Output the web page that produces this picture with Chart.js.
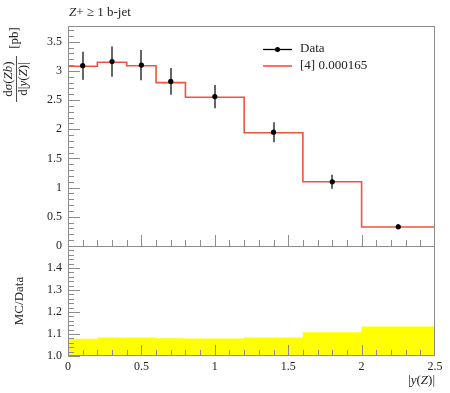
<!DOCTYPE html>
<html>
<head>
<meta charset="utf-8">
<script src="https://cdn.jsdelivr.net/npm/chart.js@4/dist/chart.umd.min.js"></script>
<style>
  html, body { margin: 0; padding: 0; background: #fff; }
</style>
</head>
<body>
<canvas id="plot" width="450" height="393"></canvas>
<script>
/* donnees */
var binEdges = [0, 0.2, 0.4, 0.6, 0.8, 1.2, 1.6, 2.0, 2.5];
var binCentres = [0.1, 0.3, 0.5, 0.7, 1.0, 1.4, 1.8, 2.25];
var dataValues = [3.09, 3.16, 3.10, 2.82, 2.56, 1.95, 1.10, 0.33];
var dataErrors = [0.24, 0.26, 0.26, 0.23, 0.20, 0.17, 0.12, 0.045];
var mcValues = [3.08, 3.15, 3.09, 2.80, 2.55, 1.94, 1.10, 0.325];
var ratioBand = [1.078, 1.084, 1.084, 1.081, 1.079, 1.084, 1.108, 1.134];
var mcRatio = [0.997, 0.997, 0.997, 0.993, 0.996, 0.995, 1.0, 0.985];
var yTicksMain = [0, 0.5, 1, 1.5, 2, 2.5, 3, 3.5];
var yTicksRatio = [1.0, 1.1, 1.2, 1.3, 1.4];
var xTicks = [0, 0.5, 1, 1.5, 2, 2.5];
var dataLabel = 'Data';
var mcLabel = '[4] 0.000165';

var red = 'rgb(238, 84, 60)';
var frameColor = '#8c8c8c';
var serif = '"Liberation Serif", "DejaVu Serif", serif';

// histogramme en escalier : valeur au bord gauche de chaque bin + dernier bord
function steps(vals) {
    var pts = [];
    for (var i = 0; i < vals.length; i++) {
        pts.push({x: binEdges[i], y: vals[i]});
    }
    pts.push({x: binEdges[binEdges.length - 1], y: vals[vals.length - 1]});
    return pts;
}

var dataPoints = binCentres.map(function (x, i) { return {x: x, y: dataValues[i]}; });

// texte avec morceaux en italique, centre sur (0,0) dans le repere courant
function richText(ctx, parts, size, align) {
    var widths = parts.map(function (p) {
        ctx.font = (p[1] ? 'italic ' : '') + size + 'px ' + serif;
        return ctx.measureText(p[0]).width;
    });
    var total = widths.reduce(function (a, b) { return a + b; }, 0);
    var x = align === 'left' ? 0 : (align === 'right' ? -total : -total / 2);
    ctx.textAlign = 'left';
    ctx.textBaseline = 'middle';
    for (var i = 0; i < parts.length; i++) {
        ctx.font = (parts[i][1] ? 'italic ' : '') + size + 'px ' + serif;
        ctx.fillText(parts[i][0], x, 0);
        x += widths[i];
    }
    return total;
}

const decorPlugin = {
    id: 'decor',
    beforeDatasetDraw: function (chart, args) {
        if (args.index !== 0) return;
        // barres d'erreur des donnees
        var ctx = chart.ctx, xs = chart.scales.x, ys = chart.scales.y;
        ctx.save();
        ctx.strokeStyle = '#333';
        ctx.lineWidth = 1.5;
        for (var i = 0; i < binCentres.length; i++) {
            var px = Math.round(xs.getPixelForValue(binCentres[i]));
            ctx.beginPath();
            ctx.moveTo(px, ys.getPixelForValue(dataValues[i] - dataErrors[i]));
            ctx.lineTo(px, ys.getPixelForValue(dataValues[i] + dataErrors[i]));
            ctx.stroke();
        }
        ctx.restore();
    },
    afterDraw: function (chart) {
        var ctx = chart.ctx, a = chart.chartArea;
        var xs = chart.scales.x, ys = chart.scales.y, yr = chart.scales.yr;
        var split = ys.bottom;
        ctx.save();

        // cadre
        ctx.strokeStyle = frameColor;
        ctx.lineWidth = 1;
        ctx.strokeRect(Math.round(a.left) + 0.5, Math.round(a.top) + 0.5,
            Math.round(a.right - a.left) - 1, Math.round(a.bottom - a.top) - 1);
        ctx.beginPath();
        ctx.moveTo(a.left, Math.round(split) + 0.5);
        ctx.lineTo(a.right, Math.round(split) + 0.5);
        ctx.stroke();

        // graduations interieures
        ctx.beginPath();
        var k, p, len;
        for (k = 0; k * 0.1 <= ys.max + 1e-9; k++) {
            p = Math.round(ys.getPixelForValue(k * 0.1)) + 0.5;
            len = (k % 5 === 0) ? 12 : 6;
            ctx.moveTo(a.left, p); ctx.lineTo(a.left + len, p);
        }
        for (k = 0; k <= 24; k++) {
            p = Math.round(yr.getPixelForValue(1 + k * 0.02)) + 0.5;
            len = (k % 5 === 0) ? 12 : 6;
            ctx.moveTo(a.left, p); ctx.lineTo(a.left + len, p);
        }
        for (k = 1; k < 25; k++) {
            p = Math.round(xs.getPixelForValue(k * 0.1)) + 0.5;
            len = (k % 5 === 0) ? 11 : 6;
            ctx.moveTo(p, split); ctx.lineTo(p, split - len);
            ctx.moveTo(p, a.bottom); ctx.lineTo(p, a.bottom - len);
        }
        ctx.stroke();

        ctx.fillStyle = '#222';
        // titre
        ctx.save();
        ctx.translate(69, 13);
        richText(ctx, [['Z', true], ['+ \u2265 1 b-jet', false]], 13, 'left');
        ctx.restore();

        // titre axe y principal (fraction)
        ctx.save();
        ctx.translate(9, 79);
        ctx.rotate(-Math.PI / 2);
        richText(ctx, [['d', false], ['\u03c3', true], ['(', false], ['Zb', true], [')', false]], 13, 'center');
        ctx.restore();
        ctx.save();
        ctx.translate(24, 79);
        ctx.rotate(-Math.PI / 2);
        richText(ctx, [['d|', false], ['y', true], ['(', false], ['Z', true], [')|', false]], 13, 'center');
        ctx.restore();
        ctx.strokeStyle = '#222';
        ctx.lineWidth = 0.8;
        ctx.beginPath();
        ctx.moveTo(16.5, 56); ctx.lineTo(16.5, 102);
        ctx.stroke();
        ctx.save();
        ctx.translate(15, 38);
        ctx.rotate(-Math.PI / 2);
        richText(ctx, [['[pb]', false]], 13, 'center');
        ctx.restore();

        // titre axe ratio
        ctx.save();
        ctx.translate(20, 301);
        ctx.rotate(-Math.PI / 2);
        richText(ctx, [['MC/Data', false]], 13, 'center');
        ctx.restore();

        // titre axe x
        ctx.save();
        ctx.translate(435, 381);
        richText(ctx, [['|', false], ['y', true], ['(', false], ['Z', true], [')|', false]], 13, 'right');
        ctx.restore();

        // legende
        ctx.strokeStyle = '#000';
        ctx.lineWidth = 1.3;
        ctx.beginPath();
        ctx.moveTo(263, 49.5); ctx.lineTo(292, 49.5);
        ctx.stroke();
        ctx.fillStyle = '#000';
        ctx.beginPath();
        ctx.arc(277.5, 49.5, 2.5, 0, 2 * Math.PI);
        ctx.fill();
        ctx.strokeStyle = red;
        ctx.lineWidth = 1.6;
        ctx.beginPath();
        ctx.moveTo(263, 66); ctx.lineTo(292, 66);
        ctx.stroke();
        ctx.fillStyle = '#222';
        ctx.save();
        ctx.translate(300, 49);
        richText(ctx, [[dataLabel, false]], 13, 'left');
        ctx.restore();
        ctx.save();
        ctx.translate(300, 66);
        richText(ctx, [[mcLabel, false]], 13, 'left');
        ctx.restore();

        ctx.restore();
    }
};

const tickFont = { family: serif, size: 12 };

const plotElem = document.getElementById('plot').getContext('2d');

const plotObj = new Chart(plotElem, {
    type: 'line',
    data: {
        datasets: [
            {
                label: dataLabel,
                data: dataPoints,
                yAxisID: 'y',
                showLine: false,
                pointRadius: 2.6,
                pointBackgroundColor: '#000',
                pointBorderColor: '#000',
                pointBorderWidth: 0
            },
            {
                label: mcLabel,
                data: steps(mcValues),
                yAxisID: 'y',
                stepped: true,
                borderColor: red,
                borderWidth: 1.6,
                pointRadius: 0,
                fill: false
            },
            {
                label: 'ratio',
                data: steps(mcRatio),
                yAxisID: 'yr',
                stepped: true,
                borderColor: red,
                borderWidth: 1.6,
                pointRadius: 0,
                fill: false
            },
            {
                label: 'band',
                data: steps(ratioBand),
                yAxisID: 'yr',
                stepped: true,
                borderWidth: 0,
                borderColor: 'rgba(0,0,0,0)',
                backgroundColor: '#ffff00',
                pointRadius: 0,
                fill: 'start'
            }
        ]
    },
    options: {
        responsive: false,
        animation: false,
        devicePixelRatio: 1,
        layout: { padding: { top: 26, right: 15, left: 0, bottom: 0 } },
        plugins: {
            legend: { display: false },
            tooltip: { enabled: false }
        },
        scales: {
            // l'ordre compte : le dernier axe de la pile est place en haut
            yr: {
                type: 'linear',
                position: 'left',
                stack: 'panels',
                stackWeight: 1,
                min: 1.0,
                max: 1.5,
                afterBuildTicks: function (s) { s.ticks = yTicksRatio.map(function (v) { return {value: v}; }); },
                afterFit: function (s) { s.width = 68; },
                grid: { display: false, drawTicks: false },
                border: { display: false },
                ticks: { font: tickFont, color: '#222', padding: 6, autoSkip: false,
                    callback: function (v) { return v.toFixed(1); } }
            },
            y: {
                type: 'linear',
                position: 'left',
                stack: 'panels',
                stackWeight: 2,
                min: 0,
                max: 3.77,
                afterBuildTicks: function (s) { s.ticks = yTicksMain.map(function (v) { return {value: v}; }); },
                afterFit: function (s) { s.width = 68; },
                grid: { display: false, drawTicks: false },
                border: { display: false },
                ticks: { font: tickFont, color: '#222', padding: 6, autoSkip: false,
                    callback: function (v) { return String(v); } }
            },
            x: {
                type: 'linear',
                position: 'bottom',
                min: 0,
                max: 2.5,
                afterBuildTicks: function (s) { s.ticks = xTicks.map(function (v) { return {value: v}; }); },
                afterFit: function (s) { s.height = 37; },
                grid: { display: false, drawTicks: false },
                border: { display: false },
                ticks: { font: tickFont, color: '#222', padding: 4, autoSkip: false, maxRotation: 0,
                    callback: function (v) { return String(v); } }
            }
        }
    },
    plugins: [decorPlugin]
});
</script>
</body>
</html>
